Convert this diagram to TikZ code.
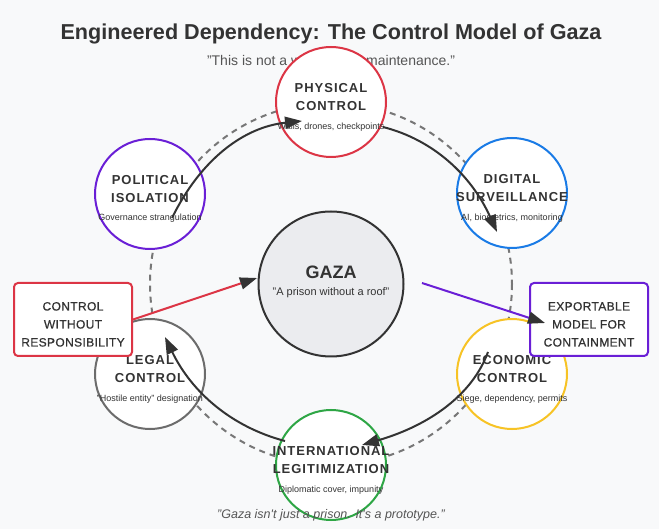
\documentclass[tikz,border=0pt]{standalone}
\usepackage{fontspec}
\setmainfont{Liberation Sans}
\newfontfamily\lsfont[LetterSpace=7.5]{Liberation Sans}
\newfontfamily\boxfont[LetterSpace=3,FakeBold=0.7]{Liberation Sans}
\usetikzlibrary{arrows.meta}
\definecolor{bg}{HTML}{F8F9FA}
\definecolor{ink}{HTML}{333333}
\definecolor{subink}{HTML}{555555}
\definecolor{cred}{HTML}{DC3545}
\definecolor{cblue}{HTML}{1A7BE6}
\definecolor{cpurple}{HTML}{6A1FD6}
\definecolor{cgray}{HTML}{6C6C6C}
\definecolor{cyellow}{HTML}{F7C325}
\definecolor{cgreen}{HTML}{2EA645}
\definecolor{orbitc}{HTML}{777777}
\definecolor{hubfill}{HTML}{EBECEF}
\begin{document}
\begin{tikzpicture}[x=1pt,y=-1pt,
  ring/.style={circle, draw=#1, line width=2pt, fill=white, minimum size=110pt, inner sep=0pt},
  ttl/.style={anchor=base, align=center, text=ink, inner sep=0pt, font=\lsfont\bfseries\fontsize{13}{18}\selectfont},
  sub/.style={anchor=base, text=ink, inner sep=0pt, font=\fontsize{9}{11}\selectfont},
  tagbox/.style={draw=#1, line width=2pt, fill=white, rounded corners=4pt, minimum width=118pt, minimum height=73pt, inner sep=0pt},
  tagtxt/.style={anchor=base, align=center, text=ink, inner sep=0pt, font=\boxfont\fontsize{12}{18}\selectfont},
  tip/.style={-{Triangle[length=17pt,width=12pt,color=ink]}},
  flow/.style={draw=ink, line width=2pt, tip},
]
\fill[bg] (0,0) rectangle (659,529);
\useasboundingbox (0,0) rectangle (659,529);

% title and subtitle
\node[anchor=base, text=ink, inner sep=0pt, font=\bfseries\fontsize{21.6}{26}\selectfont] (title) at (331,40) {Engineered Dependency: The Control Model of Gaza};
\node[anchor=base, text=subink, inner sep=0pt, font=\fontsize{14}{17}\selectfont] (subtitle) at (331,66) {"This is not a war. This is maintenance."};

% orbit
\draw[orbitc, line width=2pt, dash pattern=on 6pt off 5pt] (331,284) circle[radius=181];

% ring nodes
\node[ring=cred] (phys) at (331,102) {};
\node[ring=cblue] (digi) at (512,193) {};
\node[ring=cpurple] (poli) at (150,194) {};
\node[ring=cgray] (legal) at (150,374) {};
\node[ring=cyellow] (econ) at (512,374) {};
\node[ring=cgreen] (intl) at (331,465) {};

% (base anchor of a two-line text = baseline of its last line)
\node[ttl] (physT) at (331,111) {PHYSICAL\\CONTROL};
\node[sub] (physS) at (331,130) {Walls, drones, checkpoints};
\node[ttl] (digiT) at (512,202) {DIGITAL\\SURVEILLANCE};
\node[sub] (digiS) at (512,221) {AI, biometrics, monitoring};
\node[ttl] (poliT) at (150,202.5) {POLITICAL\\ISOLATION};
\node[sub] (poliS) at (150,221) {Governance strangulation};
\node[ttl] (legalT) at (150,382.5) {LEGAL\\CONTROL};
\node[sub] (legalS) at (150,401.5) {"Hostile entity" designation};
\node[ttl] (econT) at (512,382.5) {ECONOMIC\\CONTROL};
\node[sub] (econS) at (512,401.5) {Siege, dependency, permits};
\node[ttl] (intlT) at (331,473.5) {INTERNATIONAL\\LEGITIMIZATION};
\node[sub] (intlS) at (331,492.5) {Diplomatic cover, impunity};

% hub
\node[circle, draw=ink, line width=2pt, fill=hubfill, minimum size=145pt, inner sep=0pt] (hub) at (331,284) {};
\node[anchor=base, text=ink, inner sep=0pt, font=\bfseries\fontsize{18}{22}\selectfont] (hubT) at (331,278.5) {GAZA};
\node[anchor=base, text=ink, inner sep=0pt, font=\fontsize{11}{13}\selectfont] (hubS) at (331,296) {"A prison without a roof"};

% side boxes
\node[tagbox=cred] (ctrl) at (73,319.5) {};
\node[tagtxt] (ctrlT) at (73,346.5) {CONTROL\\WITHOUT\\RESPONSIBILITY};
\node[tagbox=cpurple] (expo) at (589,319.5) {};
\node[tagtxt] (expoT) at (589,346.5) {EXPORTABLE\\MODEL FOR\\CONTAINMENT};

% connector end points
\coordinate (polOut) at (172,218);
\coordinate (physIn) at (302,121);
\coordinate (physOut) at (383,127);
\coordinate (digIn) at (497,232);
\coordinate (ecoOut) at (488,352);
\coordinate (intlIn) at (362,445);
\coordinate (intlOut) at (285,441);
\coordinate (legIn) at (165,337);
\coordinate (hubIn) at (257,278);
\coordinate (hubOut) at (422,283);
\coordinate (expoIn) at (545,323);

% cycle arrows
\draw[flow] (polOut) .. controls (200.7,159.3) and (244,127) .. (physIn);
\draw[flow] (physOut) .. controls (433,139.7) and (471,174.7) .. (digIn);
\draw[flow] (ecoOut) .. controls (472.7,394) and (430.7,425) .. (intlIn);
\draw[flow] (intlOut) .. controls (231.7,427) and (191.7,392.3) .. (legIn);

% straight arrows
\draw[draw=cred, line width=2pt, tip] (ctrl.east) -- (hubIn);
\draw[draw=cpurple, line width=2pt, tip] (hubOut) -- (expoIn);

% closing quote
\node[anchor=base, text=subink, inner sep=0pt, font=\itshape\fontsize{12.5}{15}\selectfont] (quote) at (331,518) {"Gaza isn\textquotesingle t just a prison. It\textquotesingle s a prototype."};
\end{tikzpicture}
\end{document}
